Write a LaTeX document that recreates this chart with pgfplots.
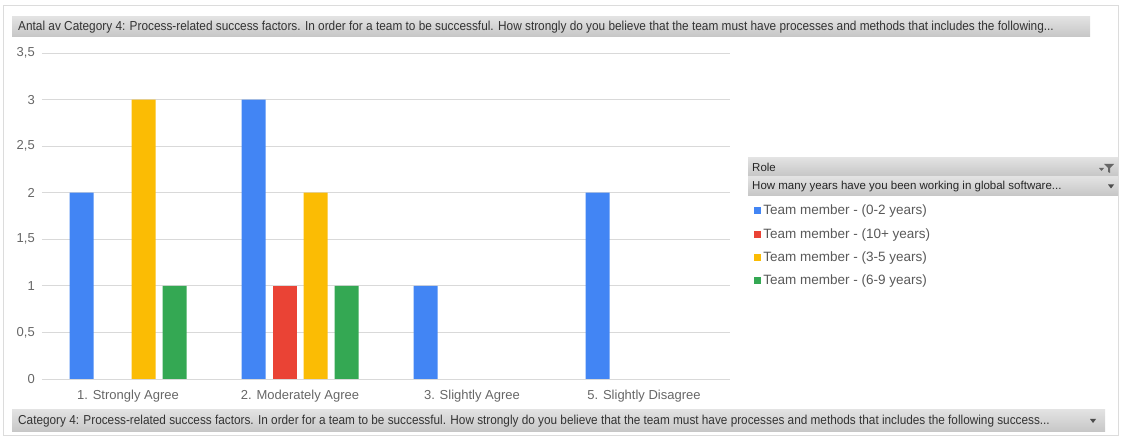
\documentclass[border=0pt]{standalone}
\usepackage{fontspec}
\setmainfont{Liberation Sans}
\newfontfamily\narrow[FakeStretch=0.91]{Liberation Sans}
\usepackage{pgfplots}
\pgfplotsset{compat=1.18}
\definecolor{gblue}{HTML}{4285F4}
\definecolor{gred}{HTML}{EA4335}
\definecolor{gyellow}{HTML}{FBBC04}
\definecolor{ggreen}{HTML}{34A853}
\definecolor{gridc}{HTML}{D9D9D9}
\definecolor{tickc}{HTML}{666666}
\definecolor{legc}{HTML}{595959}
\definecolor{barA}{HTML}{E2E2E2}
\definecolor{barB}{HTML}{C6C6C6}
\definecolor{bordc}{HTML}{DCDCDC}
\begin{document}
\begin{tikzpicture}[x=1pt,y=1pt]
\useasboundingbox (0,0) rectangle (1121,438);
\draw[bordc,line width=1pt] (3,2) rectangle (1118,432);
% top header bar
\shade[top color=barA,bottom color=barB] (12,401) rectangle (1090,421);
\node[anchor=west,inner sep=0pt,text=black!80,font=\narrow\fontsize{13}{14}\selectfont] at (18,411) {Antal av Category 4: Process-related success factors. In order for a team to be successful. How strongly do you believe that the team must have processes and methods that includes the following...};
% bottom bar
\shade[top color=barA,bottom color=barB] (12,6) rectangle (1105,28);
\node[anchor=west,inner sep=0pt,text=black!80,font=\narrow\fontsize{12.95}{14}\selectfont] at (18,17) {Category 4: Process-related success factors. In order for a team to be successful. How strongly do you believe that the team must have processes and methods that includes the following success...};
\fill[black!70] (1090,19) -- (1096,19) -- (1093,15) -- cycle;
% legend header bars
\shade[top color=barA,bottom color=barB] (748,262) rectangle (1118,280);
\node[anchor=west,inner sep=0pt,text=black!85,font=\fontsize{11.5}{13}\selectfont] at (752,271) {Role};
\fill[black!60] (1104,274) -- (1114,274) -- (1110,270) -- (1110,265) -- (1108,266) -- (1108,270) -- cycle;
\fill[black!60] (1099,270) -- (1104,270) -- (1101.5,267) -- cycle;
\shade[top color=barA,bottom color=barB] (748,242) rectangle (1118,261);
\node[anchor=west,inner sep=0pt,text=black!85,font=\fontsize{11.5}{13}\selectfont] at (752,251.5) {How many years have you been working in global software...};
\fill[black!70] (1108,253.5) -- (1114,253.5) -- (1111,249.5) -- cycle;
\begin{axis}[
  at={(42pt,59pt)}, anchor=south west,
  x=172pt, y=93.14pt,
  xmin=-0.5, xmax=3.5, ymin=0, ymax=3.5,
  ybar=7pt, bar width=24pt,
  axis line style={draw=none},
  major tick length=0pt,
  ymajorgrids, grid style={gridc, line width=0.8pt},
  ytick={0,0.5,1,1.5,2,2.5,3,3.5},
  xtick={0,1,2,3},
  xticklabels={1. Strongly Agree,2. Moderately Agree,3. Slightly Agree,5. Slightly Disagree},
  ticklabel style={text=tickc, font=\fontsize{13}{15}\selectfont},
  xticklabel style={inner sep=0pt, yshift=-11pt, font=\fontsize{13}{15}\selectfont},
  yticklabel style={inner sep=0pt, xshift=-7pt},
  /pgf/number format/.cd, use comma, assume math mode=true, /pgfplots/.cd,
  legend style={at={(1.035,0.537)}, anchor=north west, draw=none, fill=none,
    font=\fontsize{13.5}{15}\selectfont, text=legc, row sep=10pt, inner sep=0pt,
    nodes={inner sep=1pt}, cells={anchor=west}},
  legend image code/.code={\path[#1] (0pt,-3.5pt) rectangle (7pt,3.5pt); \path (8pt,0pt);},
  legend cell align=left,
  clip=false,
]
\addplot[fill=gblue, draw=none] coordinates {(0,2) (1,3) (2,1) (3,2)};
\addplot[fill=gred, draw=none] coordinates {(1,1)};
\addplot[fill=gyellow, draw=none] coordinates {(0,3) (1,2)};
\addplot[fill=ggreen, draw=none] coordinates {(0,1) (1,1)};
\legend{Team member - (0-2 years),Team member - (10+ years),Team member - (3-5 years),Team member - (6-9 years)}
\end{axis}
\end{tikzpicture}
\end{document}
